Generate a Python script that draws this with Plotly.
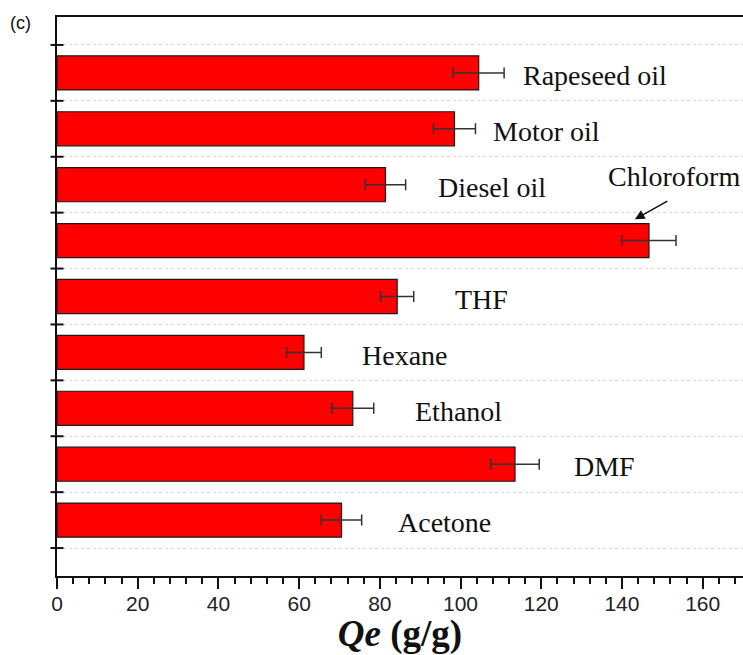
import plotly.graph_objects as go

# Absorption capacity of the sorbent for various oils and organic solvents
solvents = ["Acetone", "DMF", "Ethanol", "Hexane", "THF",
            "Chloroform", "Diesel oil", "Motor oil", "Rapeseed oil"]
qe_values = [70.5, 113.5, 73.3, 61.2, 84.3, 146.7, 81.4, 98.5, 104.5]
qe_errors = [5.0, 6.0, 5.2, 4.3, 4.1, 6.7, 5.0, 5.2, 6.3]

# horizontal gap between the error-bar end and each label (in x units)
label_gap = [8.6, 8.0, 9.6, 9.5, 9.7, 0.0, 7.6, 3.9, 4.1]

x_ticks = [0, 20, 40, 60, 80, 100, 120, 140, 160]

pos = list(range(len(solvents)))
boundaries = [p - 0.5 for p in pos] + [pos[-1] + 0.5]

serif = "Liberation Serif, Times New Roman, serif"
sans = "Liberation Sans, Arial, sans-serif"
label_font = dict(family=serif, size=28, color="#111111")

fig = go.Figure()
fig.add_trace(go.Bar(
    x=qe_values, y=pos, orientation="h", width=0.61,
    marker=dict(color="#ff0000", line=dict(color="#1a1a1a", width=1.2)),
    error_x=dict(type="data", array=qe_errors, arrayminus=qe_errors,
                 color="#333333", thickness=1.5, width=5.5),
    showlegend=False,
))

for i, name in enumerate(solvents):
    if name == "Chloroform":
        continue
    fig.add_annotation(
        x=qe_values[i] + qe_errors[i] + label_gap[i], y=pos[i] - 0.05,
        text=name, showarrow=False, xanchor="left", yanchor="middle",
        font=label_font,
    )

ci = solvents.index("Chloroform")
fig.add_annotation(
    x=qe_values[ci] + 6.3, y=pos[ci] + 1.15, text="Chloroform",
    showarrow=False, xanchor="center", yanchor="middle", font=label_font,
)
fig.add_annotation(
    x=qe_values[ci] - 3.5, y=pos[ci] + 0.38, text="", showarrow=True,
    ax=34, ay=-19, arrowhead=2, arrowsize=1.3, arrowwidth=1.5,
    arrowcolor="#111111",
)

fig.add_annotation(
    x=-0.071, y=0.99, xref="paper", yref="paper", text="(c)",
    showarrow=False, xanchor="left", yanchor="middle",
    font=dict(family=sans, size=18, color="#111111"),
)

# y tick marks crossing the left axis at every category boundary
for b in boundaries:
    fig.add_shape(type="line", xref="paper", yref="y", layer="above",
                  x0=-0.0095, x1=0.0095, y0=b, y1=b,
                  line=dict(color="#111111", width=2))

fig.update_layout(
    width=743, height=655,
    margin=dict(l=57, r=0, t=17, b=79),
    plot_bgcolor="white", paper_bgcolor="white",
    xaxis=dict(
        range=[0, 170], tickvals=x_ticks, ticks="outside", ticklen=11,
        tickwidth=2, tickcolor="#111111", showline=True, linewidth=2,
        linecolor="#111111", mirror=True, showgrid=False, zeroline=False,
        tickfont=dict(family=sans, size=21, color="#222222"),
        ticklabelstandoff=-3,
        minor=dict(dtick=4, ticks="outside", ticklen=6, tickwidth=1.6,
                   tickcolor="#111111", showgrid=False),
        title=dict(text="<b><i>Qe</i> (g/g)</b>",
                   font=dict(family=serif, size=37, color="#111111"),
                   standoff=4),
    ),
    yaxis=dict(
        range=[-1, 9], tickvals=boundaries, showticklabels=False,
        ticks="", showline=True, linewidth=2, linecolor="#111111",
        mirror=False, showgrid=True, gridcolor="#d4d4d4", griddash="dot",
        gridwidth=1, zeroline=False,
    ),
)

fig.write_html("out.html")
